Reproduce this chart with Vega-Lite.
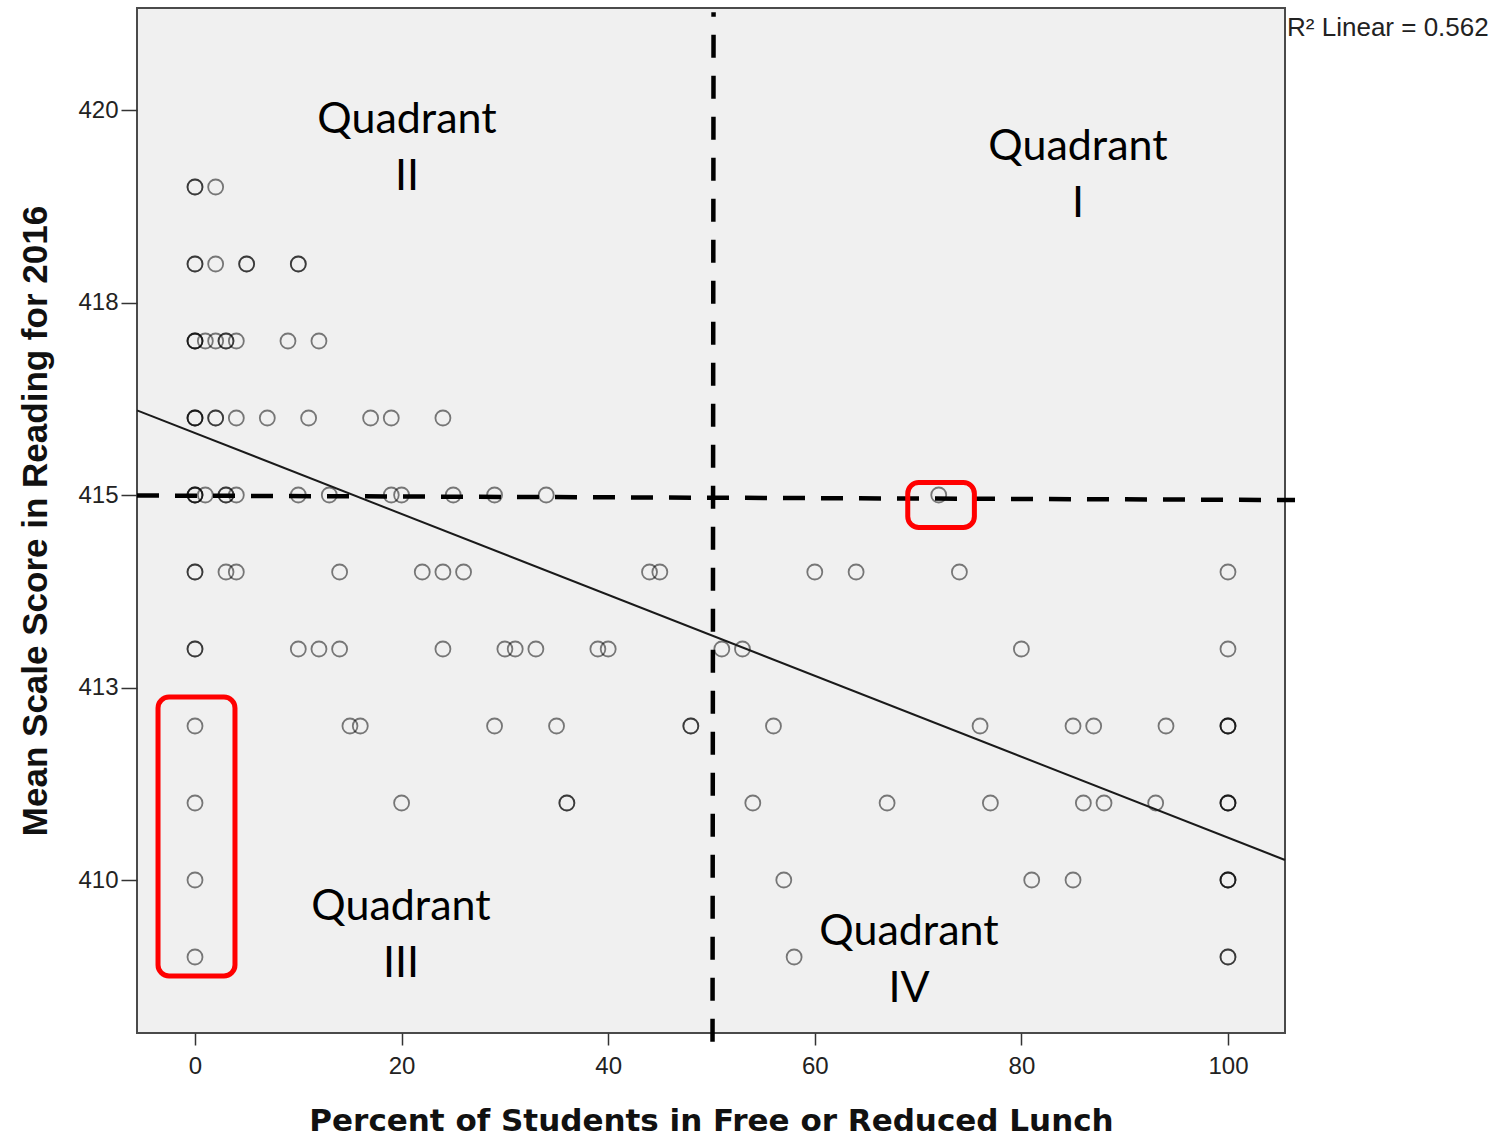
{
  "$schema": "https://vega.github.io/schema/vega-lite/v6.json",
  "width": 1148,
  "height": 1025,
  "autosize": {"type": "none"},
  "padding": {"left": 137, "top": 8, "right": 214, "bottom": 105},
  "background": "white",
  "config": {
    "view": {"fill": "#f0f0f0", "stroke": "#4a4a4a", "strokeWidth": 2},
    "axis": {
      "grid": false, "domain": false, "tickColor": "#333333", "tickWidth": 1.5,
      "labelColor": "#222222", "labelFont": "Liberation Sans", "labelFontSize": 24,
      "titleFontWeight": "bold", "titleColor": "#111111"
    }
  },
  "datasets": {
    "schools": [
      {"pct": 0, "score": 419}, {"pct": 0, "score": 419}, {"pct": 2, "score": 419},
      {"pct": 0, "score": 418}, {"pct": 0, "score": 418}, {"pct": 2, "score": 418}, {"pct": 5, "score": 418}, {"pct": 5, "score": 418}, {"pct": 10, "score": 418}, {"pct": 10, "score": 418},
      {"pct": 0, "score": 417}, {"pct": 0, "score": 417}, {"pct": 0, "score": 417}, {"pct": 1, "score": 417}, {"pct": 2, "score": 417}, {"pct": 3, "score": 417}, {"pct": 3, "score": 417}, {"pct": 4, "score": 417}, {"pct": 9, "score": 417}, {"pct": 12, "score": 417},
      {"pct": 0, "score": 416}, {"pct": 0, "score": 416}, {"pct": 0, "score": 416}, {"pct": 2, "score": 416}, {"pct": 2, "score": 416}, {"pct": 4, "score": 416}, {"pct": 7, "score": 416}, {"pct": 11, "score": 416}, {"pct": 17, "score": 416}, {"pct": 19, "score": 416}, {"pct": 24, "score": 416},
      {"pct": 0, "score": 415}, {"pct": 0, "score": 415}, {"pct": 0, "score": 415}, {"pct": 1, "score": 415}, {"pct": 3, "score": 415}, {"pct": 3, "score": 415}, {"pct": 4, "score": 415}, {"pct": 10, "score": 415}, {"pct": 13, "score": 415}, {"pct": 19, "score": 415}, {"pct": 20, "score": 415}, {"pct": 25, "score": 415}, {"pct": 29, "score": 415}, {"pct": 34, "score": 415}, {"pct": 72, "score": 415},
      {"pct": 0, "score": 414}, {"pct": 0, "score": 414}, {"pct": 3, "score": 414}, {"pct": 4, "score": 414}, {"pct": 14, "score": 414}, {"pct": 22, "score": 414}, {"pct": 24, "score": 414}, {"pct": 26, "score": 414}, {"pct": 44, "score": 414}, {"pct": 45, "score": 414}, {"pct": 60, "score": 414}, {"pct": 64, "score": 414}, {"pct": 74, "score": 414}, {"pct": 100, "score": 414},
      {"pct": 0, "score": 413}, {"pct": 0, "score": 413}, {"pct": 10, "score": 413}, {"pct": 12, "score": 413}, {"pct": 14, "score": 413}, {"pct": 24, "score": 413}, {"pct": 30, "score": 413}, {"pct": 31, "score": 413}, {"pct": 33, "score": 413}, {"pct": 39, "score": 413}, {"pct": 40, "score": 413}, {"pct": 51, "score": 413}, {"pct": 53, "score": 413}, {"pct": 80, "score": 413}, {"pct": 100, "score": 413},
      {"pct": 0, "score": 412}, {"pct": 15, "score": 412}, {"pct": 16, "score": 412}, {"pct": 29, "score": 412}, {"pct": 35, "score": 412}, {"pct": 48, "score": 412}, {"pct": 48, "score": 412}, {"pct": 56, "score": 412}, {"pct": 76, "score": 412}, {"pct": 85, "score": 412}, {"pct": 87, "score": 412}, {"pct": 94, "score": 412}, {"pct": 100, "score": 412}, {"pct": 100, "score": 412}, {"pct": 100, "score": 412},
      {"pct": 0, "score": 411}, {"pct": 20, "score": 411}, {"pct": 36, "score": 411}, {"pct": 36, "score": 411}, {"pct": 54, "score": 411}, {"pct": 67, "score": 411}, {"pct": 77, "score": 411}, {"pct": 86, "score": 411}, {"pct": 88, "score": 411}, {"pct": 93, "score": 411}, {"pct": 100, "score": 411}, {"pct": 100, "score": 411}, {"pct": 100, "score": 411},
      {"pct": 0, "score": 410}, {"pct": 57, "score": 410}, {"pct": 81, "score": 410}, {"pct": 85, "score": 410}, {"pct": 100, "score": 410}, {"pct": 100, "score": 410}, {"pct": 100, "score": 410},
      {"pct": 0, "score": 409}, {"pct": 58, "score": 409}, {"pct": 100, "score": 409}, {"pct": 100, "score": 409}
    ],
    "fit": [
      {"pct": -5.615, "score": 416.10},
      {"pct": 105.52, "score": 410.26}
    ],
    "hline": [
      {"pct": -5.615, "score": 414.994},
      {"pct": 106.49, "score": 414.935}
    ],
    "vline": [
      {"pct": 50.2, "score": 421.27},
      {"pct": 50.1, "score": 407.9}
    ],
    "boxes": [
      {"pct": -3.58, "pct2": 3.87, "score": 412.377, "score2": 408.753},
      {"pct": 69.0, "pct2": 75.45, "score": 415.162, "score2": 414.578}
    ],
    "quadrants": [
      {"pct": 20.52, "score": 419.87, "label": "Quadrant\nII"},
      {"pct": 85.48, "score": 419.52, "label": "Quadrant\nI"},
      {"pct": 19.94, "score": 409.65, "label": "Quadrant\nIII"},
      {"pct": 69.12, "score": 409.325, "label": "Quadrant\nIV"}
    ],
    "rsq": [
      {"pct": 105.72, "score": 421.06, "label": "R² Linear = 0.562"}
    ]
  },
  "encoding": {
    "x": {
      "field": "pct", "type": "quantitative",
      "scale": {"domain": [-5.615, 105.52], "nice": false, "zero": false},
      "axis": {
        "values": [0, 20, 40, 60, 80, 100], "tickSize": 12, "labelPadding": 9,
        "title": "Percent of Students in Free or Reduced Lunch",
        "titleFont": "DejaVu Sans", "titleFontSize": 31, "titlePadding": 28
      }
    },
    "y": {
      "field": "score", "type": "quantitative",
      "scale": {"domain": [408.013, 421.325], "nice": false, "zero": false},
      "axis": {
        "values": [410, 412.5, 415, 417.5, 420], "tickSize": 16, "labelPadding": 3,
        "labelExpr": "format(round(datum.value), 'd')",
        "title": "Mean Scale Score in Reading for 2016",
        "titleFont": "Liberation Sans", "titleFontSize": 35, "titlePadding": 24
      }
    }
  },
  "layer": [
    {
      "data": {"name": "schools"},
      "mark": {"type": "point", "shape": "circle", "filled": false, "size": 225, "stroke": "#000000", "strokeOpacity": 0.72, "strokeWidth": 1.8}
    },
    {
      "data": {"name": "fit"},
      "mark": {"type": "line", "color": "#1a1a1a", "strokeWidth": 2}
    },
    {
      "data": {"name": "hline"},
      "mark": {"type": "line", "color": "#000000", "strokeWidth": 4.5, "strokeDash": [22, 16]}
    },
    {
      "data": {"name": "vline"},
      "mark": {"type": "line", "color": "#000000", "strokeWidth": 4.5, "strokeDash": [23, 18]}
    },
    {
      "data": {"name": "boxes"},
      "mark": {"type": "rect", "fillOpacity": 0, "fill": "#ffffff", "stroke": "#ff0000", "strokeWidth": 5, "cornerRadius": 11},
      "encoding": {
        "x2": {"field": "pct2"},
        "y2": {"field": "score2"}
      }
    },
    {
      "data": {"name": "quadrants"},
      "mark": {"type": "text", "font": "Lato", "fontSize": 43, "lineHeight": 57, "lineBreak": "\n", "align": "center", "baseline": "middle", "color": "#000000"},
      "encoding": {"text": {"field": "label"}}
    },
    {
      "data": {"name": "rsq"},
      "mark": {"type": "text", "font": "Liberation Sans", "fontSize": 26, "align": "left", "baseline": "middle", "color": "#222222"},
      "encoding": {"text": {"field": "label"}}
    }
  ]
}
